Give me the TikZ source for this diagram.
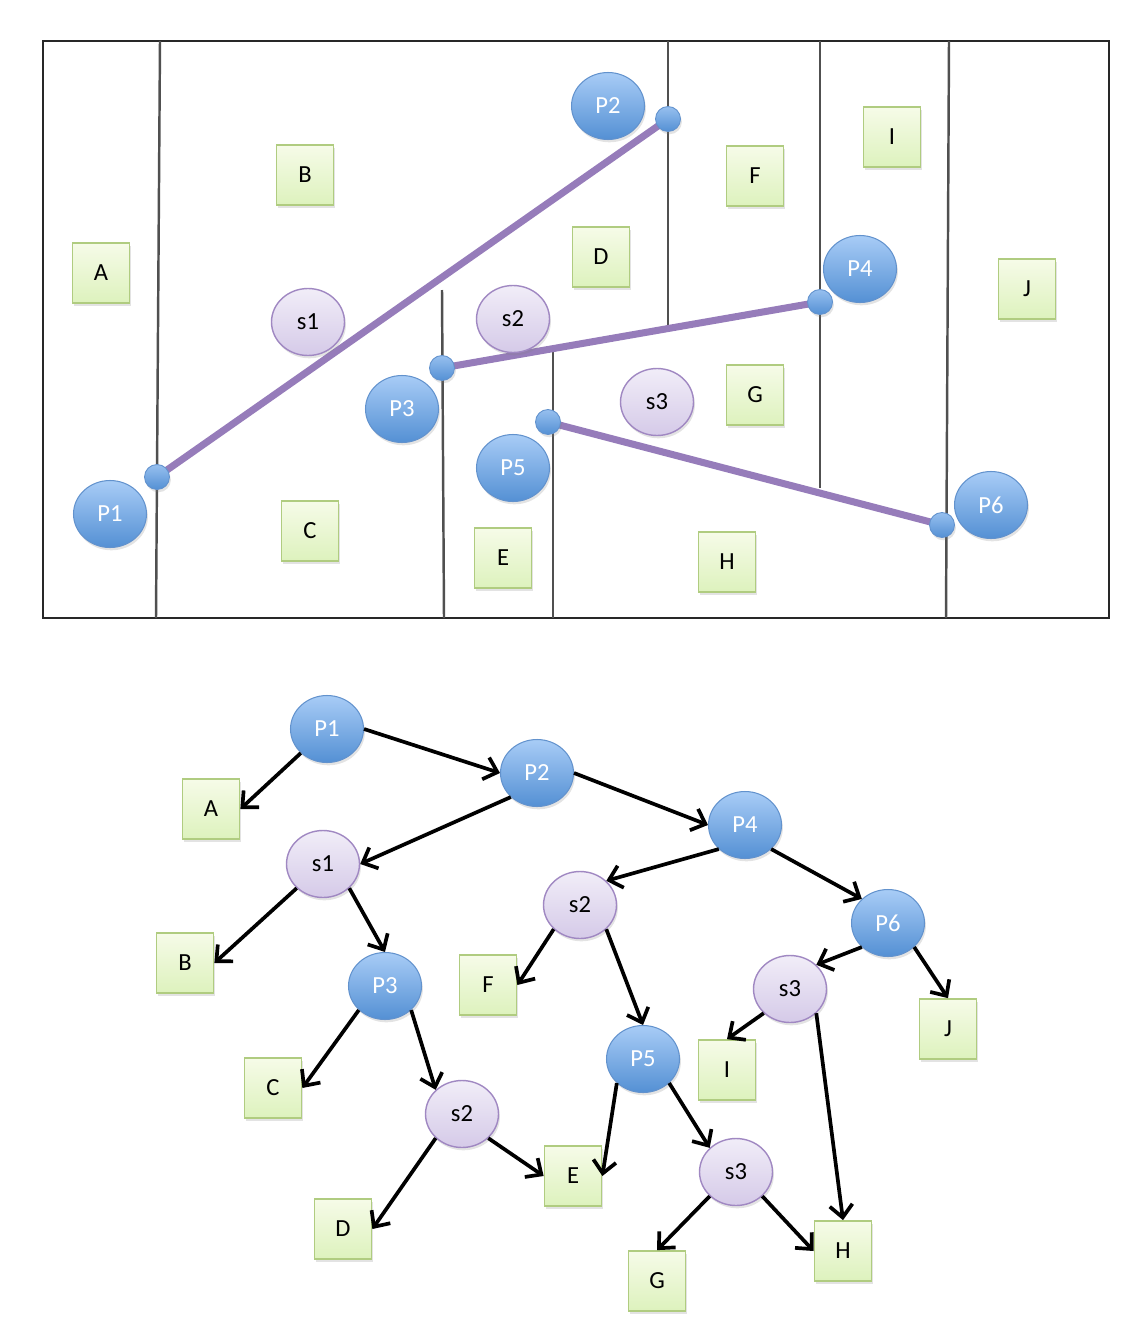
\documentclass[tikz,border=0pt]{standalone}
\usepackage{fontspec}
\setmainfont{Carlito}
\usetikzlibrary{arrows.meta,shadows,shapes.geometric}
\definecolor{blutop}{RGB}{168,204,246}
\definecolor{blubot}{RGB}{84,144,212}
\definecolor{bluline}{RGB}{98,146,205}
\definecolor{viotop}{RGB}{241,237,248}
\definecolor{viobot}{RGB}{213,202,232}
\definecolor{violine}{RGB}{160,136,194}
\definecolor{verdetop}{RGB}{246,251,232}
\definecolor{verdebot}{RGB}{221,242,189}
\definecolor{verdeline}{RGB}{176,204,128}
\definecolor{segcol}{RGB}{150,124,186}
\definecolor{cornice}{RGB}{40,40,40}
\definecolor{divisore}{RGB}{80,80,80}

\begin{document}
\begin{tikzpicture}[x=0.02cm, y=-0.02cm, >={Straight Barb[length=7pt,width=13pt]},
    ombra/.style={drop shadow={shadow xshift=0.8pt, shadow yshift=-1.6pt, opacity=0.22}},
    pnode/.style={ellipse, minimum width=1.46cm, minimum height=1.34cm, inner sep=0pt,
      draw=bluline, line width=0.6pt, top color=blutop, bottom color=blubot,
      text=white, font=\fontsize{14}{16}\selectfont, ombra},
    snode/.style={ellipse, minimum width=1.46cm, minimum height=1.34cm, inner sep=0pt,
      draw=violine, line width=0.8pt, top color=viotop, bottom color=viobot,
      font=\fontsize{14}{16}\selectfont, ombra},
    cell/.style={rectangle, minimum width=1.14cm, minimum height=1.2cm, inner sep=0pt,
      draw=verdeline, line width=1pt, top color=verdetop, bottom color=verdebot,
      font=\fontsize{14}{16}\selectfont, ombra},
    dot/.style={circle, minimum size=0.5cm, inner sep=0pt, draw=bluline, line width=0.5pt,
      top color=blutop!80!blubot, bottom color=blubot, ombra},
    divider/.style={draw=divisore, line width=1.4pt},
    segment/.style={draw=segcol, line width=4pt},
    link/.style={->, line width=2.1pt, black}]
    \useasboundingbox (0,0) rectangle (1142,1342);

    % Coordinate dei punti
    \coordinate (q1) at (157,477);
    \coordinate (q2) at (668,119);
    \coordinate (q3) at (442,368);
    \coordinate (q4) at (820,302);
    \coordinate (q5) at (548,422);
    \coordinate (q6) at (942,525);

    % Cornice e divisori
    \draw[draw=cornice, line width=1.6pt] (43,41) rectangle (1109,618);
    \draw[divider] (160,41) -- (156,618);
    \draw[divider] (442,290) -- (444,618);
    \draw[divider] (668,41) -- (668,330);
    \draw[divider] (820,41) -- (820,488);
    \draw[divider] (553,352) -- (553,618);
    \draw[divider] (949,41) -- (946,618);

    % Segmenti
    \draw[segment] (q1) -- (q2);
    \draw[segment] (q3) -- (q4);
    \draw[segment] (q5) -- (q6);

    % Punti
    \node[dot] (d1) at (q1) {};
    \node[dot] (d2) at (q2) {};
    \node[dot] (d3) at (q3) {};
    \node[dot] (d4) at (q4) {};
    \node[dot] (d5) at (q5) {};
    \node[dot] (d6) at (q6) {};

    % Etichette dei punti
    \node[pnode] (mp1) at (110,514) {P1};
    \node[pnode] (mp2) at (608,106) {P2};
    \node[pnode] (mp3) at (402,409) {P3};
    \node[pnode] (mp4) at (860,269) {P4};
    \node[pnode] (mp5) at (513,468) {P5};
    \node[pnode] (mp6) at (991,505) {P6};

    % Siti
    \node[snode] (ms1) at (308,322) {s1};
    \node[snode] (ms2) at (513,319) {s2};
    \node[snode] (ms3) at (657,402) {s3};

    % Regioni
    \node[cell] (ma) at (101,273) {A};
    \node[cell] (mb) at (305,175) {B};
    \node[cell] (mc) at (310,531) {C};
    \node[cell] (md) at (601,257) {D};
    \node[cell] (me) at (503,558) {E};
    \node[cell] (mf) at (755,176) {F};
    \node[cell] (mg) at (755,395) {G};
    \node[cell] (mh) at (727,562) {H};
    \node[cell] (mi) at (892,137) {I};
    \node[cell] (mj) at (1027,289) {J};

    % Albero: nodi
    \node[pnode] (tp1) at (327,729) {P1};
    \node[pnode] (tp2) at (537,773) {P2};
    \node[pnode] (tp4) at (745,825) {P4};
    \node[pnode] (tp6) at (888,923) {P6};
    \node[pnode] (tp3) at (385,986) {P3};
    \node[pnode] (tp5) at (643,1059) {P5};
    \node[snode] (ts1) at (323,864) {s1};
    \node[snode] (ts2) at (580,905) {s2};
    \node[snode] (ts3) at (790,989) {s3};
    \node[snode] (ts2b) at (462,1114) {s2};
    \node[snode] (ts3b) at (736,1172) {s3};
    \node[cell] (ta) at (211,809) {A};
    \node[cell] (tb) at (185,963) {B};
    \node[cell] (tf) at (488,985) {F};
    \node[cell] (tj) at (948,1029) {J};
    \node[cell] (ti) at (727,1070) {I};
    \node[cell] (tc) at (273,1088) {C};
    \node[cell] (te) at (573,1176) {E};
    \node[cell] (td) at (343,1229) {D};
    \node[cell] (th) at (843,1251) {H};
    \node[cell] (tg) at (657,1281) {G};

    % Albero: archi
    \draw[link] (tp1.south west) -- (ta.east);
    \draw[link] (tp1.east) -- (tp2.west);
    \draw[link] (tp2.south west) -- (ts1.east);
    \draw[link] (tp2.east) -- (tp4.west);
    \draw[link] (tp4.south west) -- (ts2.north east);
    \draw[link] (tp4.south east) -- (tp6.north west);
    \draw[link] (ts1.south west) -- (tb.east);
    \draw[link] (ts1.south east) -- (tp3.north);
    \draw[link] (tp3.south west) -- (tc.east);
    \draw[link] (tp3.south east) -- (ts2b.north west);
    \draw[link] (ts2b.south west) -- (td.east);
    \draw[link] (ts2b.south east) -- (te.west);
    \draw[link] (ts2.south west) -- (tf.east);
    \draw[link] (ts2.south east) -- (tp5.north);
    \draw[link] (tp5.south west) -- (te.east);
    \draw[link] (tp5.south east) -- (ts3b.north west);
    \draw[link] (ts3b.south west) -- (tg.north);
    \draw[link] (ts3b.south east) -- (th.west);
    \draw[link] (tp6.south west) -- (ts3.north east);
    \draw[link] (tp6.south east) -- (tj.north);
    \draw[link] (ts3.south west) -- (ti.north);
    \draw[link] (ts3.south east) -- (th.north);
\end{tikzpicture}
\end{document}
